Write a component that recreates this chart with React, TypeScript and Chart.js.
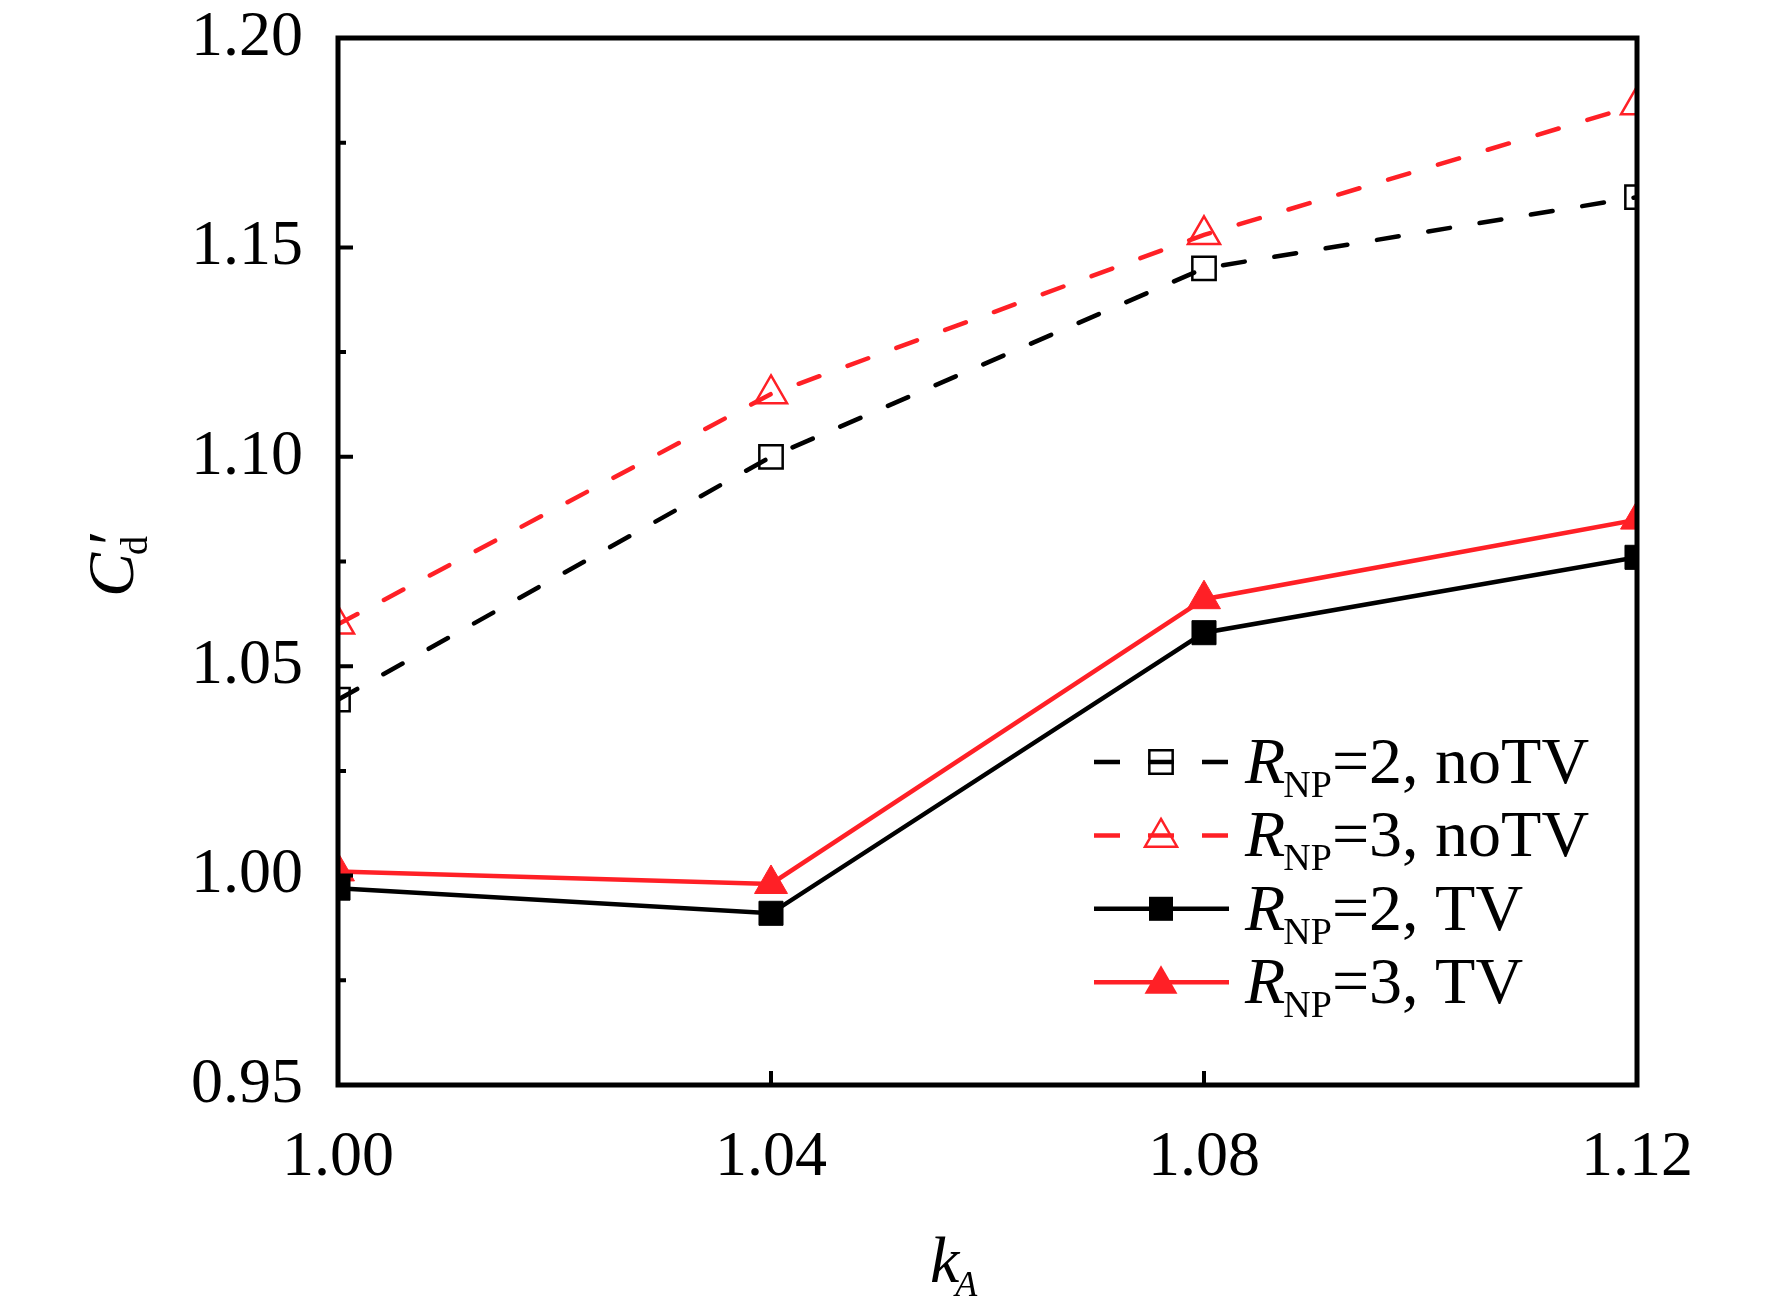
import React, { useEffect, useRef } from 'react';
import { Chart, registerables } from 'chart.js';

Chart.register(...registerables);

// k_A values on the x axis
const kA = [1.0, 1.04, 1.08, 1.12];
// C'd for each case
const r2NoTV = [1.042, 1.1, 1.145, 1.162];
const r3NoTV = [1.06, 1.115, 1.153, 1.184];
const r2TV = [0.997, 0.991, 1.058, 1.076];
const r3TV = [1.001, 0.998, 1.066, 1.085];

const xTicks = [1.0, 1.04, 1.08, 1.12];
const yTicks = [0.95, 1.0, 1.05, 1.1, 1.15, 1.2];
const legendRest = ['=2, noTV', '=3, noTV', '=2, TV', '=3, TV'];

const RED = 'rgb(255,32,38)';
const FONT = '"Liberation Serif", "Times New Roman", serif';

const toPoints = (ys: number[]) => kA.map((x, i) => ({ x, y: ys[i] }));

// draws the same shapes Chart.js uses for 'rect' and 'triangle'
function marker(ctx: CanvasRenderingContext2D, style: string, x: number, y: number, r: number) {
  ctx.beginPath();
  if (style === 'rect') {
    const s = Math.SQRT1_2 * r;
    ctx.rect(x - s, y - s, 2 * s, 2 * s);
  } else {
    let rad = 0;
    ctx.moveTo(x + Math.sin(rad) * r, y - Math.cos(rad) * r);
    rad += (2 * Math.PI) / 3;
    ctx.lineTo(x + Math.sin(rad) * r, y - Math.cos(rad) * r);
    rad += (2 * Math.PI) / 3;
    ctx.lineTo(x + Math.sin(rad) * r, y - Math.cos(rad) * r);
    ctx.closePath();
  }
}

const decorPlugin = {
  id: 'decor',
  afterDraw(chart: any) {
    const { ctx, chartArea: a, scales } = chart;
    const xs = scales.x;
    const ys = scales.y;
    ctx.save();
    ctx.strokeStyle = '#000';
    ctx.lineCap = 'butt';

    // inward ticks
    ctx.lineWidth = 4;
    ctx.beginPath();
    yTicks.forEach((v) => {
      const p = ys.getPixelForValue(v);
      ctx.moveTo(a.left, p);
      ctx.lineTo(a.left + 15, p);
    });
    yTicks.slice(1).forEach((v, i) => {
      const p = ys.getPixelForValue((v + yTicks[i]) / 2);
      ctx.moveTo(a.left, p);
      ctx.lineTo(a.left + 8, p);
    });
    xTicks.forEach((v) => {
      const p = xs.getPixelForValue(v);
      ctx.moveTo(p, a.bottom);
      ctx.lineTo(p, a.bottom - 14);
    });
    ctx.stroke();

    // frame
    ctx.lineWidth = 5;
    ctx.strokeRect(a.left, a.top, a.right - a.left, a.bottom - a.top);

    // axis titles
    ctx.fillStyle = '#000';
    ctx.textBaseline = 'alphabetic';
    ctx.textAlign = 'left';
    ctx.save();
    ctx.translate(133, 597);
    ctx.rotate(-Math.PI / 2);
    ctx.font = `italic 66px ${FONT}`;
    ctx.fillText('C', 0, 0);
    const cw = ctx.measureText('C').width;
    ctx.fillText('\u2032', cw + 4, 0);
    ctx.font = `38px ${FONT}`;
    ctx.fillText('d', cw - 2, 14);
    ctx.restore();

    ctx.font = `italic 66px ${FONT}`;
    ctx.fillText('k', 930, 1282);
    const kw = ctx.measureText('k').width;
    ctx.font = `italic 36px ${FONT}`;
    ctx.fillText('A', 930 + kw - 4, 1296);

    // legend
    const rows = [
      { color: '#000', dash: true, style: 'rect', filled: false, r: 16.5 },
      { color: RED, dash: true, style: 'triangle', filled: false, r: 18.5 },
      { color: '#000', dash: false, style: 'rect', filled: true, r: 17 },
      { color: RED, dash: false, style: 'triangle', filled: true, r: 19 },
    ];
    rows.forEach((row, i) => {
      const cy = 762 + i * 73.4;
      ctx.strokeStyle = row.color;
      ctx.fillStyle = row.color;
      ctx.lineWidth = 4.5;
      ctx.setLineDash(row.dash ? [26, 28] : []);
      ctx.beginPath();
      ctx.moveTo(1094, cy);
      ctx.lineTo(1229, cy);
      ctx.stroke();
      ctx.setLineDash([]);
      const my = row.style === 'triangle' ? cy + 2 : cy;
      marker(ctx, row.style, 1161, my, row.r);
      if (row.filled) {
        ctx.fill();
      } else {
        ctx.lineWidth = 2.5;
        ctx.stroke();
      }
      ctx.fillStyle = '#000';
      let tx = 1245;
      const by = cy + 21;
      ctx.font = `italic 66px ${FONT}`;
      ctx.fillText('R', tx, by);
      tx += ctx.measureText('R').width - 2;
      ctx.font = `38px ${FONT}`;
      ctx.fillText('NP', tx, by + 14);
      tx += ctx.measureText('NP').width;
      ctx.font = `66px ${FONT}`;
      ctx.fillText(legendRest[i], tx, by);
    });
    ctx.restore();
  },
};

const App: React.FC = () => {
  const canvasRef = useRef<HTMLCanvasElement | null>(null);
  const chartRef = useRef<Chart | null>(null);

  useEffect(() => {
    const canvas = canvasRef.current;
    if (!canvas) return;
    if (chartRef.current) chartRef.current.destroy();

    chartRef.current = new Chart(canvas, {
      type: 'line',
      data: {
        datasets: [
          {
            label: 'R_NP=2, noTV',
            data: toPoints(r2NoTV),
            borderColor: '#000',
            borderWidth: 4.5,
            borderDash: [22, 30],
            borderCapStyle: 'round',
            pointStyle: 'rect',
            pointRadius: 16.5,
            pointBorderWidth: 2.5,
            pointBorderColor: '#000',
            pointBackgroundColor: 'rgba(0,0,0,0)',
          },
          {
            label: 'R_NP=3, noTV',
            data: toPoints(r3NoTV),
            borderColor: RED,
            borderWidth: 4.5,
            borderDash: [22, 30],
            borderCapStyle: 'round',
            pointStyle: 'triangle',
            pointRadius: 18.5,
            pointBorderWidth: 2.5,
            pointBorderColor: RED,
            pointBackgroundColor: 'rgba(0,0,0,0)',
          },
          {
            label: 'R_NP=2, TV',
            data: toPoints(r2TV),
            borderColor: '#000',
            borderWidth: 4.5,
            pointStyle: 'rect',
            pointRadius: 17,
            pointBorderWidth: 1,
            pointBorderColor: '#000',
            pointBackgroundColor: '#000',
          },
          {
            label: 'R_NP=3, TV',
            data: toPoints(r3TV),
            borderColor: RED,
            borderWidth: 4.5,
            pointStyle: 'triangle',
            pointRadius: 19,
            pointBorderWidth: 1,
            pointBorderColor: RED,
            pointBackgroundColor: RED,
          },
        ],
      },
      options: {
        animation: false,
        responsive: false,
        devicePixelRatio: 1,
        layout: { padding: { left: 0, top: 38, right: 135, bottom: 0 } },
        plugins: {
          legend: { display: false },
          tooltip: { enabled: false },
        },
        scales: {
          x: {
            type: 'linear',
            min: 1.0,
            max: 1.12,
            afterBuildTicks: (s: any) => {
              s.ticks = xTicks.map((value) => ({ value }));
            },
            afterFit: (s: any) => {
              s.height = 231;
              s.paddingLeft = 0;
              s.paddingRight = 0;
            },
            grid: { display: false, drawTicks: false },
            border: { display: false },
            ticks: {
              padding: 41,
              color: '#000',
              font: { family: FONT, size: 64, lineHeight: 1 },
              callback: (v: any) => Number(v).toFixed(2),
            },
          },
          y: {
            type: 'linear',
            min: 0.95,
            max: 1.2,
            afterBuildTicks: (s: any) => {
              s.ticks = yTicks.map((value) => ({ value }));
            },
            afterFit: (s: any) => {
              s.width = 338;
              s.paddingTop = 0;
              s.paddingBottom = 0;
            },
            grid: { display: false, drawTicks: false },
            border: { display: false },
            ticks: {
              padding: 35,
              color: '#000',
              font: { family: FONT, size: 64, lineHeight: 1 },
              callback: (v: any) => Number(v).toFixed(2),
            },
          },
        },
      },
      plugins: [decorPlugin],
    } as any);

    return () => {
      if (chartRef.current) {
        chartRef.current.destroy();
        chartRef.current = null;
      }
    };
  }, []);

  return (
    <div style={{ position: 'absolute', left: 0, top: 0, width: 1772, height: 1316, background: '#fff' }}>
      <canvas ref={canvasRef} width={1772} height={1316} style={{ display: 'block' }} />
    </div>
  );
};

export default App;
